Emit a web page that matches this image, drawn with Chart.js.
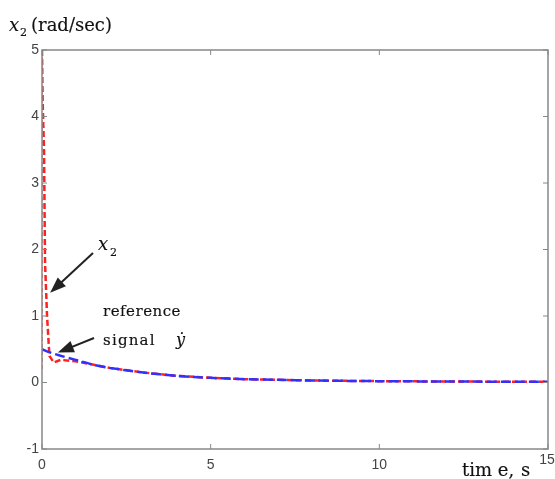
<!DOCTYPE html>
<html>
<head>
<meta charset="utf-8">
<title>x2 response</title>
<script src="https://cdn.jsdelivr.net/npm/chart.js"></script>
<style>
  body{margin:0;background:#fff}
  #wrap{width:555px;height:479px}
</style>
</head>
<body>
<div id="wrap"><canvas id="chart" width="555" height="479"></canvas></div>
<script>
// time samples and values
const tX2 = [0, 0.02, 0.06, 0.09, 0.15, 0.22, 0.35, 0.55, 1, 1.5, 2, 3, 4, 5, 6, 7, 8, 10, 12, 15];
const x2  = [5, 4.2, 3.5, 1.8, 1.0, 0.4, 0.3, 0.34, 0.32, 0.27, 0.22, 0.15, 0.1, 0.07, 0.05, 0.04, 0.03, 0.02, 0.015, 0.01];
const tX2Start = [0, 0];
const x2Start  = [5, 0.2];
const tRef = [0, 0.25, 0.5, 1, 1.5, 2, 3, 4, 5, 6, 7, 8, 10, 12, 15];
const yRef = [0.5, 0.45, 0.41, 0.34, 0.27, 0.22, 0.15, 0.1, 0.07, 0.05, 0.04, 0.03, 0.02, 0.015, 0.01];
const xTicks = [0, 5, 10, 15];
const yTicks = [-1, 0, 1, 2, 3, 4, 5];

const pts = (xs, ys) => xs.map((x, i) => ({x, y: ys[i]}));

const frame = {
  id: 'frame',
  afterDraw(chart) {
    const {ctx, chartArea: a, scales: {x, y}} = chart;
    ctx.save();
    ctx.strokeStyle = '#888';
    ctx.lineWidth = 1.5;
    ctx.strokeRect(a.left, a.top, a.right - a.left, a.bottom - a.top);
    ctx.lineWidth = 1;
    yTicks.forEach(v => {
      const py = y.getPixelForValue(v);
      ctx.beginPath();
      ctx.moveTo(a.left, py); ctx.lineTo(a.left + 5, py);
      ctx.moveTo(a.right, py); ctx.lineTo(a.right - 5, py);
      ctx.stroke();
    });
    xTicks.forEach(v => {
      const px = x.getPixelForValue(v);
      ctx.beginPath();
      ctx.moveTo(px, a.bottom); ctx.lineTo(px, a.bottom - 5);
      ctx.moveTo(px, a.top); ctx.lineTo(px, a.top + 5);
      ctx.stroke();
    });

    // tick labels
    ctx.fillStyle = '#444';
    ctx.font = '14px "Liberation Sans"';
    ctx.textAlign = 'right';
    ctx.textBaseline = 'middle';
    yTicks.forEach(v => ctx.fillText(String(v), a.left - 3, y.getPixelForValue(v)));
    ctx.textAlign = 'center';
    xTicks.forEach(v => {
      const px = x.getPixelForValue(v);
      ctx.fillText(String(v), v === 15 ? px - 1 : px, v === 15 ? a.bottom + 11 : a.bottom + 16);
    });

    // labels in serif, slightly thickened
    ctx.fillStyle = '#111';
    ctx.strokeStyle = '#111';
    ctx.lineWidth = 0.15;
    ctx.textBaseline = 'alphabetic';
    ctx.textAlign = 'left';
    const txt = (s, px, py, font, sp) => {
      ctx.font = font;
      ctx.letterSpacing = (sp || 0) + 'px';
      ctx.fillText(s, px, py);
      ctx.strokeText(s, px, py);
      ctx.letterSpacing = '0px';
    };
    txt('x', 9, 31, 'italic 18px "DejaVu Serif"');
    txt('2', 20, 36, '11px "DejaVu Serif"');
    txt('(rad/sec)', 31, 31, '18px "DejaVu Serif"');

    txt('tim e,', 462, 476, '18px "DejaVu Serif"');
    txt('s', 521, 476, '18px "DejaVu Serif"');

    txt('x', 98, 250, 'italic 18px "DejaVu Serif"');
    txt('2', 110, 256, '11px "DejaVu Serif"');

    txt('reference', 103, 316, '15px "DejaVu Serif"', 0.5);
    txt('signal', 103, 345, '15px "DejaVu Serif"', 1.2);
    txt('\u1E8F', 176, 345, 'italic 16px "DejaVu Serif"');

    // arrows
    const arrow = (x1, y1, v2x, v2y) => {
      const x2p = x.getPixelForValue(v2x), y2p = y.getPixelForValue(v2y);
      const ang = Math.atan2(y2p - y1, x2p - x1);
      ctx.strokeStyle = '#222';
      ctx.fillStyle = '#222';
      ctx.lineWidth = 2;
      ctx.beginPath();
      ctx.moveTo(x1, y1);
      ctx.lineTo(x2p - 10 * Math.cos(ang), y2p - 10 * Math.sin(ang));
      ctx.stroke();
      ctx.beginPath();
      ctx.moveTo(x2p, y2p);
      ctx.lineTo(x2p - 16 * Math.cos(ang) + 6 * Math.sin(ang), y2p - 16 * Math.sin(ang) - 6 * Math.cos(ang));
      ctx.lineTo(x2p - 16 * Math.cos(ang) - 6 * Math.sin(ang), y2p - 16 * Math.sin(ang) + 6 * Math.cos(ang));
      ctx.closePath();
      ctx.fill();
    };
    arrow(93, 253, 0.24, 1.35);
    arrow(94, 338, 0.47, 0.45);
    ctx.restore();
  }
};

new Chart(document.getElementById('chart'), {
  type: 'scatter',
  data: {
    datasets: [
      {
        label: 'reference',
        data: pts(tRef, yRef),
        showLine: true,
        borderColor: '#3030ff',
        borderWidth: 2.5,
        borderDash: [10, 4],
        pointRadius: 0,
        tension: 0.3
      },
      {
        label: 'x2 start',
        data: pts(tX2Start, x2Start),
        showLine: true,
        borderColor: '#ff5050',
        borderWidth: 1.5,
        borderDash: [4, 3],
        pointRadius: 0
      },
      {
        label: 'x2',
        data: pts(tX2, x2),
        showLine: true,
        borderColor: '#ff2020',
        borderWidth: 2.5,
        borderDash: [6, 3],
        pointRadius: 0,
        tension: 0
      }
    ]
  },
  options: {
    responsive: false,
    animation: false,
    layout: { padding: { top: 50, right: 7, left: 0, bottom: 0 } },
    plugins: { legend: { display: false }, tooltip: { enabled: false } },
    scales: {
      x: {
        type: 'linear', min: 0, max: 15,
        ticks: { display: false },
        grid: { display: false },
        border: { display: false },
        afterFit(s) { s.height = 30; }
      },
      y: {
        min: -1, max: 5,
        ticks: { display: false },
        grid: { display: false },
        border: { display: false },
        afterFit(s) { s.width = 42; }
      }
    }
  },
  plugins: [frame]
});
</script>
</body>
</html>
